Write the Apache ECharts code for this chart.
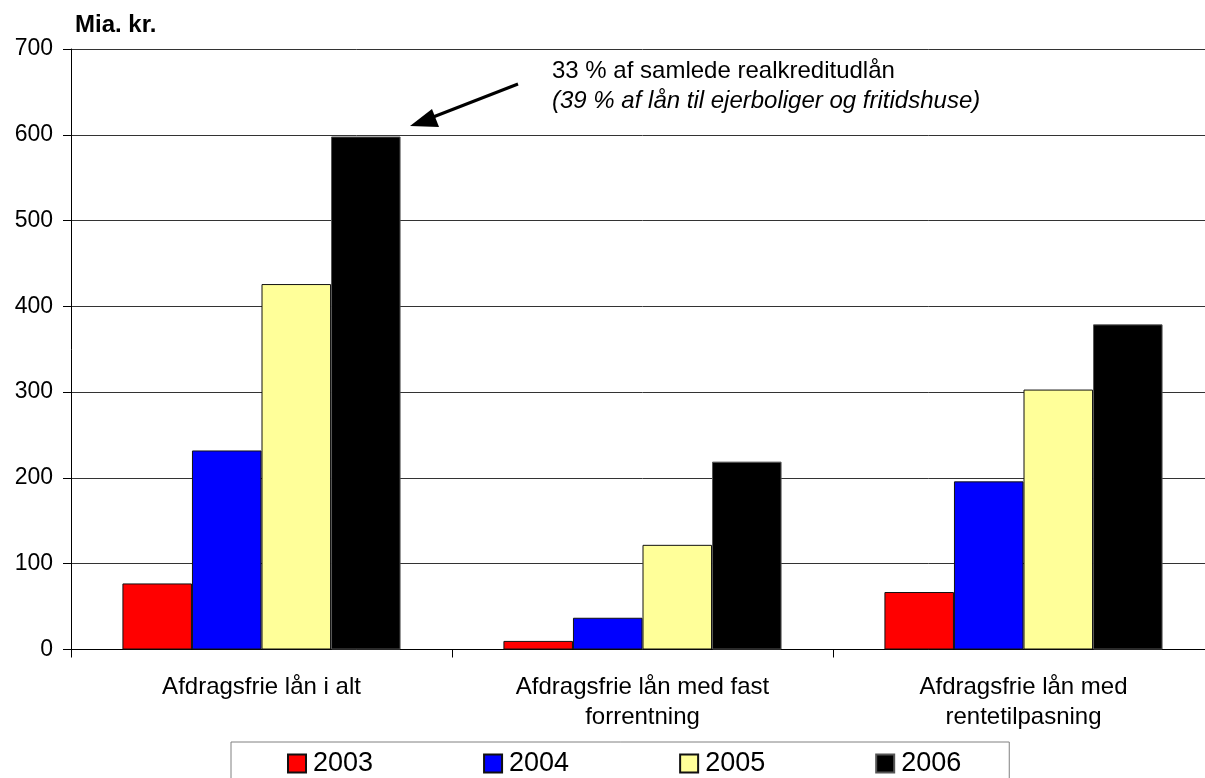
<!DOCTYPE html>
<html>
<head>
<meta charset="utf-8">
<script src="https://cdn.jsdelivr.net/npm/echarts@6/dist/echarts.min.js"></script>
<style>
  html, body { margin: 0; padding: 0; background: #fff; overflow: hidden; }
  /* the plot runs a little past the right edge of the window */
  #chart { width: 1214px; height: 778px; }
</style>
</head>
<body>
<div id="chart"></div>
<script>
// Afdragsfrie lån, mia. kr., 2003-2006
const categories = ['Afdragsfrie lån i alt', 'Afdragsfrie lån med fast\nforrentning', 'Afdragsfrie lån med\nrentetilpasning'];
const years = ['2003', '2004', '2005', '2006'];
const v2003 = [77, 10, 67];
const v2004 = [232, 37, 196];
const v2005 = [426, 122, 303];
const v2006 = [598, 219, 379];
const yTicks = { min: 0, max: 700, interval: 100 };
const unitLabel = 'Mia. kr.';
const noteLine1 = '33 % af samlede realkreditudlån';
const noteLine2 = '(39 % af lån til ejerboliger og fritidshuse)';

const colors = ['#ff0000', '#0000ff', '#ffff99', '#000000'];
const seriesValues = [v2003, v2004, v2005, v2006];
const FONT = '"Liberation Sans", Arial, sans-serif';

const chart = echarts.init(document.getElementById('chart'), null, { renderer: 'canvas' });

chart.setOption({
  animation: false,
  backgroundColor: '#ffffff',
  textStyle: { fontFamily: FONT, color: '#000' },
  grid: { left: 71, top: 49, width: 1143, height: 600.5 },
  legend: {
    data: years,
    left: 231,
    top: 742,
    icon: 'rect',
    itemWidth: 18,
    itemHeight: 18,
    itemGap: 110,
    padding: [8, 48, 20, 56],
    borderColor: '#808080',
    borderWidth: 1,
    backgroundColor: '#fff',
    textStyle: { fontFamily: FONT, fontSize: 27, color: '#000', padding: [0, 0, 0, 2] }
  },
  xAxis: {
    type: 'category',
    data: categories,
    axisLine: { lineStyle: { color: '#000', width: 1 } },
    axisTick: { show: true, length: 8, lineStyle: { color: '#000' } },
    axisLabel: {
      fontFamily: FONT, fontSize: 24, color: '#000',
      lineHeight: 30, margin: 23, interval: 0
    }
  },
  yAxis: {
    type: 'value',
    min: yTicks.min,
    max: yTicks.max,
    interval: yTicks.interval,
    axisLine: { show: true, lineStyle: { color: '#000', width: 1 } },
    axisTick: { show: true, length: 8, lineStyle: { color: '#000' } },
    axisLabel: { fontFamily: FONT, fontSize: 23, color: '#000', margin: 18 },
    splitLine: { show: true, lineStyle: { color: '#333', width: 1 } }
  },
  series: years.map((y, i) => ({
    name: y,
    type: 'bar',
    data: seriesValues[i],
    barGap: '0%',
    barCategoryGap: '27%',
    itemStyle: {
      color: colors[i],
      borderColor: i === 3 ? '#555' : '#111',
      borderWidth: 1
    }
  })),
  graphic: [
    {
      type: 'text', left: 75, top: 13,
      style: { text: unitLabel, fontFamily: FONT, fontSize: 24, fontWeight: 'bold', fill: '#000' }
    },
    {
      type: 'text', left: 552, top: 59,
      style: { text: noteLine1, fontFamily: FONT, fontSize: 24, fill: '#000' }
    },
    {
      type: 'text', left: 552, top: 89,
      style: { text: noteLine2, fontFamily: FONT, fontSize: 24, fontStyle: 'italic', fill: '#000' }
    },
    {
      type: 'line', z: 10,
      shape: { x1: 518, y1: 84, x2: 428, y2: 119 },
      style: { stroke: '#000', lineWidth: 3 }
    },
    {
      type: 'polygon', z: 10,
      shape: { points: [[410, 126], [432, 109], [439, 127]] },
      style: { fill: '#000' }
    }
  ]
});
</script>
</body>
</html>
